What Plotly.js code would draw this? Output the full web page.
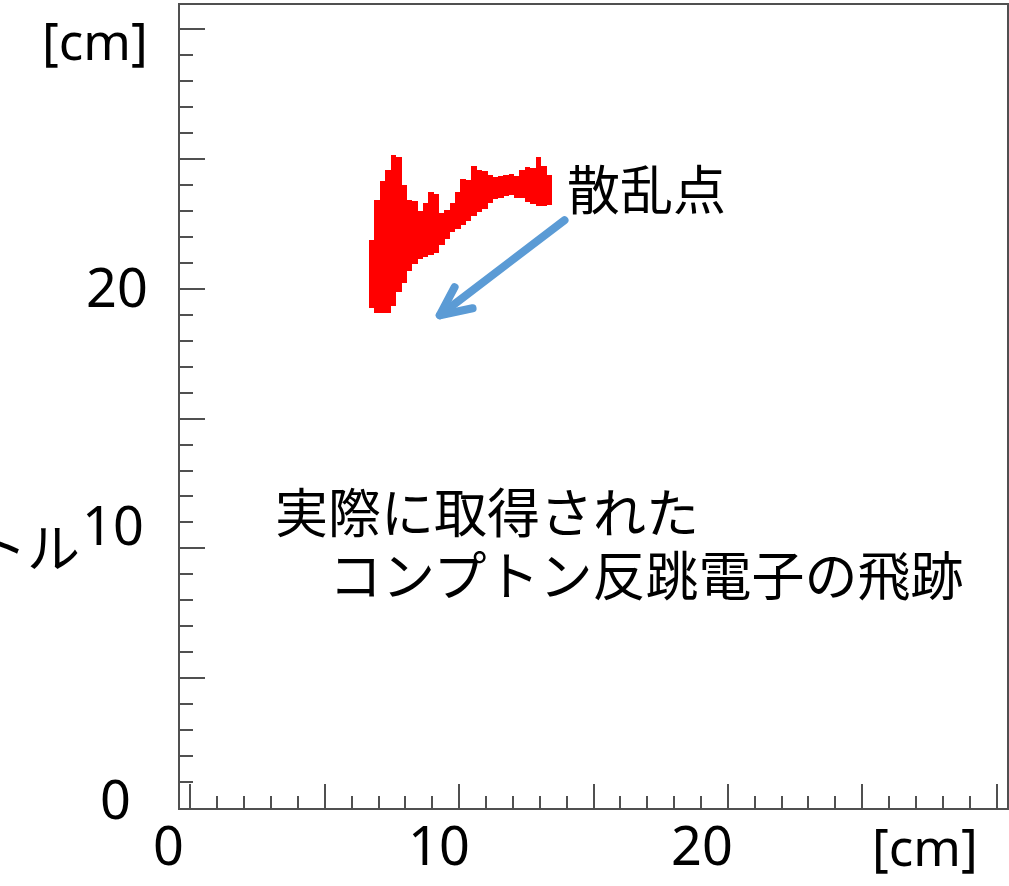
<!DOCTYPE html>
<html>
<head>
<meta charset="utf-8">
<script src="https://cdn.plot.ly/plotly-3.0.1.min.js"></script>
<style>html,body{margin:0;padding:0;background:#fff;}</style>
</head>
<body>
<div id="chart" style="width:1009px;height:886px;"></div>
<script>
// Track columns (x centre in cm), lower and upper edge (cm)
const colX = [6.75, 6.95, 7.15, 7.35, 7.55, 7.75, 7.95, 8.15, 8.35, 8.55,
              8.75, 8.95, 9.15, 9.35, 9.55, 9.75, 9.95, 10.15, 10.35, 10.55,
              10.75, 10.95, 11.15, 11.35, 11.55, 11.75, 11.95, 12.15, 12.35, 12.55,
              12.75, 12.95, 13.15, 13.35];
const colTop = [21.87, 23.41, 24.14, 24.57, 25.14, 25.07, 23.99, 23.41, 23.37, 22.99,
                23.29, 23.72, 23.64, 22.91, 23.03, 23.29, 23.72, 24.22, 24.18, 24.72,
                24.57, 24.53, 24.37, 24.30, 24.34, 24.37, 24.41, 24.34, 24.57, 24.68,
                24.64, 25.07, 24.72, 24.37];
const colBottom = [19.25, 19.06, 19.06, 19.06, 19.33, 19.87, 20.21, 20.67, 20.94, 21.14,
                   21.21, 21.29, 21.37, 21.68, 21.91, 22.18, 22.29, 22.45, 22.60, 22.79,
                   22.95, 23.06, 23.29, 23.45, 23.49, 23.56, 23.60, 23.49, 23.49, 23.33,
                   23.26, 23.18, 23.18, 23.22];

// Tick labels
const xTickVals = [0, 10, 20];
const xTickText = ["0", "10", "20"];
const yTickVals = [0, 10, 20];
const yTickText = ["0", "10", "20"];

// Texts
const scatterLabel = "散乱点";
const captionLine1 = "実際に取得された";
const captionLine2 = "コンプトン反跳電子の飛跡";
const axisUnit = "[cm]";
const cutLabel = "トル";

const heights = colTop.map((t, i) => t - colBottom[i]);

const trace = {
  type: 'bar',
  x: colX,
  base: colBottom,
  y: heights,
  width: 0.21,
  marker: {color: '#ff0000', line: {width: 0}},
  hoverinfo: 'skip'
};

const latin = 'Noto Sans, DejaVu Sans, sans-serif';
const cjk = 'Noto Sans CJK JP, sans-serif';

const xShifts = [-22, -20, -26];
const yShiftsX = [-65, -67, -63];
const yShiftsY = [10, 24, 3];

const annotations = [];
xTickVals.forEach((v, i) => annotations.push({
  x: v, xref: 'x', y: 0, yref: 'paper', yanchor: 'middle', xanchor: 'center',
  xshift: xShifts[i], yshift: -36, showarrow: false, text: xTickText[i],
  font: {family: latin, size: 54, color: '#000'}
}));
yTickVals.forEach((v, i) => annotations.push({
  x: 0, xref: 'paper', y: v, yref: 'y', yanchor: 'middle', xanchor: 'center',
  xshift: yShiftsX[i], yshift: yShiftsY[i], showarrow: false, text: yTickText[i],
  font: {family: latin, size: 54, color: '#000'}
}));
annotations.push(
  {x: -0.1028, y: 0.9564, xref: 'paper', yref: 'paper', xanchor: 'center', yanchor: 'middle',
   showarrow: false, text: axisUnit, font: {family: latin, size: 51, color: '#000'}},
  {x: 0.9008, y: -0.0473, xref: 'paper', yref: 'paper', xanchor: 'center', yanchor: 'middle',
   showarrow: false, text: axisUnit, font: {family: latin, size: 51, color: '#000'}},
  {x: -0.1185, y: 0.3275, xref: 'paper', yref: 'paper', xanchor: 'right', yanchor: 'middle',
   showarrow: false, text: cutLabel, font: {family: cjk, size: 53, color: '#000'}},
  {x: 16.97, y: 23.91, xref: 'x', yref: 'y', xanchor: 'center', yanchor: 'middle',
   showarrow: false, text: scatterLabel, font: {family: cjk, size: 53, color: '#000'}},
  {x: 11.02, y: 11.46, xref: 'x', yref: 'y', xanchor: 'center', yanchor: 'middle', height: 60,
   showarrow: false, text: captionLine1, font: {family: cjk, size: 53, color: '#000'}},
  {x: 16.97, y: 9.04, xref: 'x', yref: 'y', xanchor: 'center', yanchor: 'middle', height: 60,
   showarrow: false, text: captionLine2, font: {family: cjk, size: 53, color: '#000'}}
);

const arrowColor = '#5B9BD5';
const shapes = [
  {type: 'path', xref: 'x', yref: 'y', path: 'M 13.92 22.64 L 9.28 18.98',
   line: {color: arrowColor, width: 8}},
  {type: 'path', xref: 'x', yref: 'y', path: 'M 9.83 20.06 L 9.28 18.98 L 10.50 19.25',
   line: {color: arrowColor, width: 8}}
];

const axisCommon = {
  showgrid: false, zeroline: false, showline: true, mirror: true,
  linecolor: '#505050', linewidth: 2, ticks: 'inside', tickmode: 'linear', tick0: 0, dtick: 5,
  tickwidth: 2, tickcolor: '#505050', showticklabels: false, fixedrange: true
};

const layout = {
  width: 1009, height: 886,
  margin: {l: 180, r: 2, t: 5, b: 78, pad: 0},
  paper_bgcolor: '#fff', plot_bgcolor: '#fff',
  showlegend: false,
  xaxis: Object.assign({}, axisCommon, {range: [-0.39, 30.39], ticklen: 24,
    minor: {ticks: 'inside', tick0: 0, dtick: 1, ticklen: 12, tickwidth: 2, tickcolor: '#505050', showgrid: false}}),
  yaxis: Object.assign({}, axisCommon, {range: [0, 30.93], ticklen: 25,
    minor: {ticks: 'inside', tick0: 0, dtick: 1, ticklen: 13, tickwidth: 2, tickcolor: '#505050', showgrid: false}}),
  annotations: annotations,
  shapes: shapes,
  bargap: 0
};

Plotly.newPlot('chart', [trace], layout, {staticPlot: true}).then(() => {
  document.querySelectorAll('.shapelayer path').forEach(p => {
    p.style.strokeLinecap = 'round';
    p.style.strokeLinejoin = 'round';
  });
});
</script>
</body>
</html>
